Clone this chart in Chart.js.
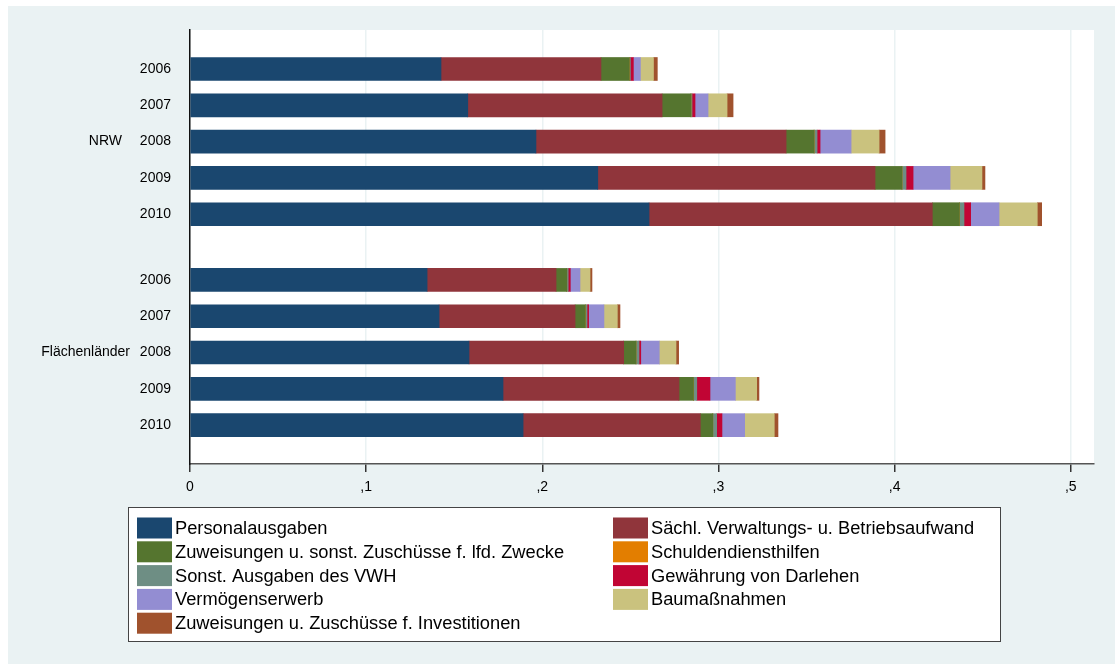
<!DOCTYPE html>
<html>
<head>
<meta charset="utf-8">
<script src="https://cdn.jsdelivr.net/npm/chart.js@4"></script>
<style>
  body { margin: 0; background: #fff; }
  canvas { display: block; }
</style>
</head>
<body>
<canvas id="chart" width="1115" height="664"></canvas>
<script>
// bar rows: 5 years per group, a gap between NRW and Flächenländer
const years = ['2006', '2007', '2008', '2009', '2010', '2006', '2007', '2008', '2009', '2010'];
const rowPos = [0, 1, 2, 3, 4, 5.81, 6.81, 7.81, 8.81, 9.81];
const groups = ['NRW', 'Flächenländer'];
const xTicks = [0, 0.1, 0.2, 0.3, 0.4, 0.5];

const seriesNames = [
  'Personalausgaben',
  'Sächl. Verwaltungs- u. Betriebsaufwand',
  'Zuweisungen u. sonst. Zuschüsse f. lfd. Zwecke',
  'Schuldendiensthilfen',
  'Sonst. Ausgaben des VWH',
  'Gewährung von Darlehen',
  'Vermögenserwerb',
  'Baumaßnahmen',
  'Zuweisungen u. Zuschüsse f. Investitionen'
];
const seriesColors = ['#1A476F', '#90353B', '#55752F', '#E37E00', '#6E8E84', '#C10534', '#938DD2', '#CAC27E', '#A0522D'];

// values per row (NRW 2006..2010, Flächenländer 2006..2010)
const personal   = [0.1425, 0.1577, 0.1964, 0.2315, 0.2606, 0.1346, 0.1414, 0.1584, 0.1777, 0.1891];
const saechl     = [0.0908, 0.1103, 0.1420, 0.1574, 0.1608, 0.0732, 0.0772, 0.0878, 0.0999, 0.1006];
const zuwLfd     = [0.0161, 0.0164, 0.0159, 0.0153, 0.0154, 0.0061, 0.0058, 0.0070, 0.0082, 0.0071];
const schulden   = [0, 0, 0, 0, 0, 0, 0, 0, 0, 0];
const sonstVwh   = [0.0006, 0.0006, 0.0017, 0.0023, 0.0026, 0.0008, 0.0010, 0.0017, 0.0019, 0.0022];
const darlehen   = [0.0017, 0.0017, 0.0017, 0.0040, 0.0038, 0.0012, 0.0009, 0.0010, 0.0075, 0.0030];
const vermoegen  = [0.0040, 0.0074, 0.0176, 0.0210, 0.0161, 0.0055, 0.0087, 0.0105, 0.0144, 0.0129];
const bau        = [0.0074, 0.0108, 0.0159, 0.0181, 0.0217, 0.0057, 0.0076, 0.0095, 0.0121, 0.0168];
const zuwInvest  = [0.0022, 0.0034, 0.0034, 0.0017, 0.0025, 0.0011, 0.0015, 0.0015, 0.0013, 0.0021];

const seriesValues = [personal, saechl, zuwLfd, schulden, sonstVwh, darlehen, vermoegen, bau, zuwInvest];

const bgColor = '#EAF2F3';
const font = "'Liberation Sans', Arial, sans-serif";

const backgroundPlugin = {
  id: 'background',
  beforeDraw(chart) {
    const { ctx, chartArea } = chart;
    ctx.save();
    ctx.fillStyle = '#fff';
    ctx.fillRect(0, 0, chart.width, chart.height);
    ctx.fillStyle = bgColor;
    ctx.fillRect(8, 6, chart.width - 8, chart.height - 6);
    ctx.fillStyle = '#fff';
    ctx.fillRect(chartArea.left, chartArea.top, chartArea.right - chartArea.left, chartArea.bottom - chartArea.top);
    ctx.restore();
  }
};

// group labels left of the years + Stata-like boxed legend in two columns
const extrasPlugin = {
  id: 'extras',
  afterDraw(chart) {
    const { ctx } = chart;
    const y = chart.scales.y;
    ctx.save();
    ctx.fillStyle = '#000';
    ctx.font = '14px ' + font;
    ctx.textBaseline = 'middle';
    ctx.textAlign = 'right';
    ctx.fillText(groups[0], 122, y.getPixelForValue(rowPos[2]));
    ctx.fillText(groups[1], 130, y.getPixelForValue(rowPos[7]));

    ctx.fillStyle = '#fff';
    ctx.fillRect(128, 507, 872, 134);
    ctx.strokeStyle = '#444';
    ctx.lineWidth = 1;
    ctx.strokeRect(128.5, 507.5, 872, 134);

    ctx.font = '18.3px ' + font;
    ctx.textAlign = 'left';
    chart.data.datasets.forEach((ds, i) => {
      const col = i % 2;
      const row = Math.floor(i / 2);
      const sx = col === 0 ? 137 : 613;
      const cy = 528 + row * 23.8;
      ctx.fillStyle = ds.backgroundColor;
      ctx.fillRect(sx, cy - 10.5, 35, 21);
      ctx.fillStyle = '#000';
      ctx.fillText(ds.label, sx + 38, cy + 1);
    });
    ctx.restore();
  }
};

new Chart(document.getElementById('chart'), {
  type: 'bar',
  data: {
    datasets: seriesNames.map((name, i) => ({
      label: name,
      data: seriesValues[i].map((v, j) => ({ x: v, y: rowPos[j] })),
      backgroundColor: seriesColors[i],
      borderWidth: 0,
      barThickness: 23
    }))
  },
  options: {
    indexAxis: 'y',
    responsive: false,
    animation: false,
    devicePixelRatio: 1,
    layout: { padding: { left: 0, top: 30, right: 21, bottom: 0 } },
    plugins: { legend: { display: false }, tooltip: { enabled: false } },
    scales: {
      x: {
        type: 'linear',
        stacked: true,
        min: 0,
        max: 0.5132,
        afterBuildTicks: (scale) => { scale.ticks = xTicks.map(v => ({ value: v })); },
        afterFit: (scale) => { scale.height = 200; },
        ticks: {
          padding: 7,
          color: '#000',
          font: { family: font, size: 14 },
          maxRotation: 0,
          callback: (v) => v === 0 ? '0' : ',' + Math.round(v * 10)
        },
        grid: { color: bgColor, lineWidth: 1.5, tickColor: '#333', tickLength: 8 },
        border: { color: '#555', width: 1.5 }
      },
      y: {
        type: 'linear',
        stacked: true,
        reverse: true,
        offset: false,
        min: -1.074,
        max: 10.88,
        afterBuildTicks: (scale) => { scale.ticks = rowPos.map(v => ({ value: v })); },
        afterFit: (scale) => { scale.width = 190; },
        ticks: {
          padding: 11,
          color: '#000',
          font: { family: font, size: 14 },
          callback: (v, i) => years[i]
        },
        grid: { display: false, offset: false },
        border: { color: '#111', width: 1.5 }
      }
    }
  },
  plugins: [backgroundPlugin, extrasPlugin]
});
</script>
</body>
</html>
